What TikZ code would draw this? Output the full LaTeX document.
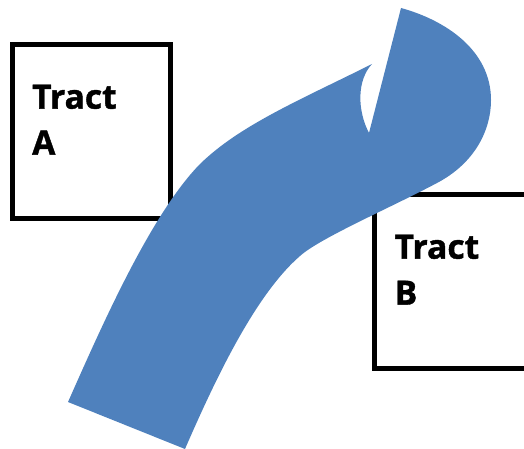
\documentclass[tikz,border=0pt]{standalone}
\usepackage{fontspec}
\setmainfont{Open Sans}[BoldFeatures={FakeBold=1.2}]
\usepackage{xcolor}
\usetikzlibrary{positioning}

\definecolor{bandblue}{RGB}{79,129,189}

\begin{document}
\begin{tikzpicture}[x=1pt, y=-1pt,
        tract/.style={rectangle, draw, line width=5pt, inner sep=0pt},
        tractlabel/.style={inner sep=0pt, align=left,
            font=\fontsize{33.6}{46}\selectfont\bfseries}]
        \useasboundingbox (0,0) rectangle (524,449);
        \clip (0,0) rectangle (524,449);

        \node (tractA) [tract, minimum width=158pt, minimum height=173.5pt] at (91.5,131.25) {};
        \node (tractB) [tract, minimum width=186pt, minimum height=174pt] at (467,281) {};
        \node (labelA) [tractlabel, below right=42.5pt and 22pt of tractA.north west] {Tract\\A};
        \node (labelB) [tractlabel, below right=43pt and 23pt of tractB.north west] {Tract\\B};

        % the curved band from tract A over to tract B
        \fill[bandblue] (68,402) -- (185,449)
            .. controls (215,380) and (255,295) .. (300,256)
            .. controls (320,238) and (390,208) .. (437,183)
            .. controls (475,163) and (491,130) .. (491,100)
            .. controls (491,50) and (445,20) .. (401,8)
            -- (369,133)
            .. controls (357,110) and (357,80) .. (372,64)
            .. controls (300,100) and (240,125) .. (200,164)
            .. controls (150,215) and (100,330) .. (68,402) -- cycle;
    \end{tikzpicture}
\end{document}
